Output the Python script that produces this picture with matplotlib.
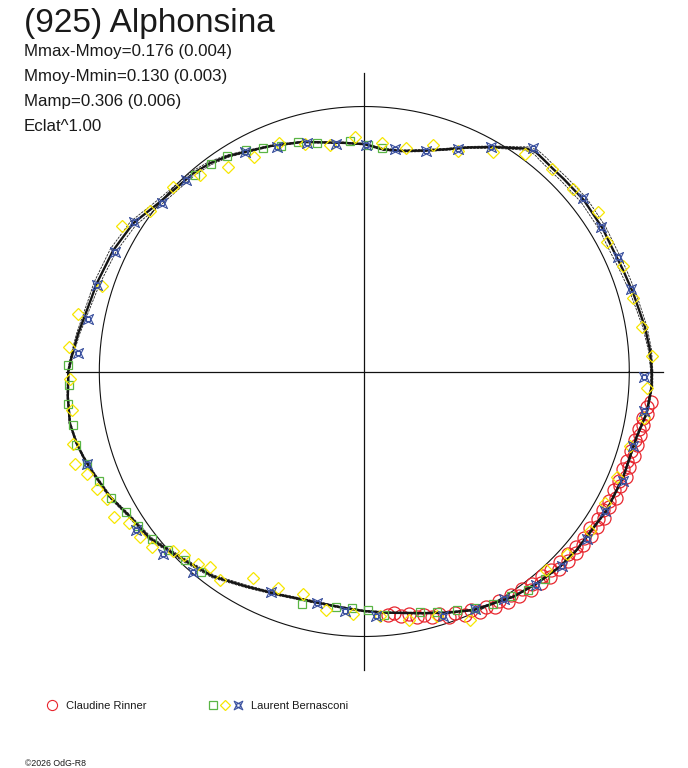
import numpy as np
import matplotlib
matplotlib.use('Agg')
import matplotlib.pyplot as plt
from matplotlib.path import Path

plt.rcParams['font.family'] = ['Liberation Sans', 'DejaVu Sans']

#%% data  (angle in degrees, ccw from +x ; radius = relative flux, 1 = mean)
title = '(925) Alphonsina'
stats = ['Mmax-Mmoy=0.176 (0.004)',
         'Mmoy-Mmin=0.130 (0.003)',
         'Mamp=0.306 (0.006)',
         'Eclat^1.00']
observers = ['Claudine Rinner', 'Laurent Bernasconi']
credit = '\u00a92026 OdG-R8'

curve_ang = [0, 4.3, 9.1, 16.2, 21.4, 26, 31, 38, 44, 47, 50, 52, 54, 56, 60, 65, 70, 75,
             80, 85, 90, 95, 105, 112.7, 118, 122.3, 126.5, 130.8, 140.3, 147.3, 154.2,
             161.8, 165.3, 172.4, 177.1, 180, 184.9, 190, 194, 196.9, 200.6, 206.2, 211.8,
             217.9, 227, 233.6, 241.3, 249.3, 257.5, 264.1, 270, 275.3, 283, 288.9, 294.6,
             303.5, 309.1, 315.1, 319.9, 330.3, 337.9, 346.5, 351.6, 357, 360]
curve_flux = [1.085, 1.081, 1.072, 1.057, 1.049, 1.045, 1.049, 1.051, 1.046, 1.045, 1.048,
              1.051, 1.040, 1.017, 0.978, 0.933, 0.892, 0.863, 0.845, 0.841, 0.858, 0.866,
              0.897, 0.922, 0.941, 0.962, 0.978, 0.988, 1.002, 1.036, 1.052, 1.063, 1.067,
              1.089, 1.106, 1.117, 1.123, 1.128, 1.119, 1.108, 1.092, 1.070, 1.040, 1.025,
              0.982, 0.961, 0.925, 0.901, 0.890, 0.894, 0.904, 0.914, 0.936, 0.962, 0.990,
              1.019, 1.031, 1.043, 1.047, 1.054, 1.055, 1.057, 1.077, 1.086, 1.085]
curve_err = [0.004, 0.006, 0.008, 0.010, 0.012, 0.013, 0.013, 0.013, 0.012, 0.012, 0.012,
             0.010, 0.008, 0.006, 0.005, 0.004, 0.004, 0.004, 0.004, 0.004, 0.003, 0.003,
             0.003, 0.003, 0.004, 0.005, 0.007, 0.009, 0.011, 0.012, 0.012, 0.011, 0.009,
             0.006, 0.004, 0.003, 0.003, 0.003, 0.003, 0.003, 0.004, 0.004, 0.005, 0.006,
             0.006, 0.006, 0.005, 0.004, 0.004, 0.003, 0.003, 0.003, 0.003, 0.003, 0.003,
             0.003, 0.003, 0.003, 0.003, 0.003, 0.003, 0.003, 0.003, 0.004, 0.004]

# Claudine Rinner
red_ang = [354.0, 352.8, 351.5, 350.6, 349.2, 348.1, 347.0, 345.8, 344.9, 343.5, 342.6,
           341.2, 340.1, 339.3, 338.0, 336.8, 335.9, 334.5, 333.4, 332.2, 331.0, 329.9,
           328.6, 327.7, 326.3, 325.2, 324.0, 322.9, 321.6, 320.4, 319.5, 318.1, 317.0,
           315.8, 314.6, 313.3, 312.1, 311.0, 309.8, 308.4, 307.3, 306.0, 304.6, 303.2,
           301.9, 300.4, 299.0, 297.3, 295.8, 294.1, 292.5, 290.6, 289.0, 287.2, 285.5,
           283.7, 282.0, 280.4, 278.6, 277.0, 275.5]
red_flux = [1.088, 1.074, 1.080, 1.066, 1.072, 1.058, 1.067, 1.052, 1.064, 1.050, 1.066,
            1.048, 1.061, 1.044, 1.064, 1.047, 1.058, 1.043, 1.062, 1.046, 1.057, 1.041,
            1.060, 1.044, 1.055, 1.038, 1.058, 1.040, 1.054, 1.036, 1.052, 1.034, 1.050,
            1.030, 1.047, 1.028, 1.043, 1.024, 1.040, 1.021, 1.035, 1.015, 1.030, 1.010,
            1.024, 1.004, 1.016, 0.998, 1.006, 0.986, 0.993, 0.972, 0.978, 0.958, 0.962,
            0.944, 0.948, 0.930, 0.935, 0.918, 0.924]

# Laurent Bernasconi (three sessions)
green_ang = [89.1, 85.4, 93.6, 101.8, 106, 110.4, 114.3, 118.1, 122.5, 126.4, 130.7, 178.7,
             182.7, 186.3, 190.4, 194.2, 198.4, 202.5, 206.6, 210.5, 214.4, 218.4, 222.3,
             226.5, 230.9, 255, 263.2, 267, 270.8, 274.7, 283, 286.8, 291.2, 295, 299, 303.2,
             306.9, 311.1]
green_flux = [0.854, 0.846, 0.871, 0.880, 0.901, 0.906, 0.925, 0.946, 0.964, 0.974, 0.979,
              1.119, 1.117, 1.126, 1.118, 1.124, 1.103, 1.083, 1.070, 1.045, 1.034, 1.020,
              1.000, 0.983, 0.977, 0.909, 0.896, 0.894, 0.900, 0.921, 0.931, 0.948, 0.966,
              0.985, 1.004, 1.013, 1.031, 1.037]

yellow_ang = [92.3, 85.7, 79.5, 73, 67, 59.7, 53.6, 47.1, 41.2, 34.4, 28, 22.2, 15.4, 9.0,
              3.1, 356.7, 350.5, 344.3, 337.3, 331.3, 324.8, 317.9, 312.4, 293.1, 286.6,
              280.3, 273.7, 267.3, 260.8, 254.7, 248.4, 241.8, 235.3, 231.7, 229.2, 225.5,
              223.1, 219.5, 216.4, 212.8, 210.2, 206.4, 203.8, 200.2, 197.7, 194, 187.5,
              181.4, 175.2, 168.6, 161.9, 149, 143.2, 136, 129.9, 123.7, 117.2, 110.4, 104.7,
              98.7]
yellow_flux = [0.885, 0.866, 0.858, 0.893, 0.903, 0.959, 1.021, 1.042, 1.047, 1.067, 1.037,
               1.056, 1.051, 1.062, 1.087, 1.070, 1.072, 1.040, 1.035, 1.034, 1.042, 1.030,
               1.016, 1.019, 0.962, 0.953, 0.924, 0.916, 0.912, 0.871, 0.880, 0.886, 0.959,
               0.938, 0.962, 0.969, 0.990, 1.039, 1.052, 1.057, 1.093, 1.085, 1.102, 1.116,
               1.146, 1.131, 1.113, 1.111, 1.120, 1.104, 1.041, 1.065, 1.012, 1.004, 0.967,
               0.927, 0.909, 0.919, 0.886, 0.864]

blue_ang = [89.5, 82.1, 74.3, 67.2, 60.5, 53, 38.5, 31.4, 24.2, 17.2, 358.8, 351.9, 344.5,
            337, 329.8, 323, 315.5, 308.7, 301.6, 294.9, 287.9, 272.7, 265.5, 258.5, 247.1,
            229.5, 222.2, 214.8, 198.4, 176.3, 169.3, 162, 154.4, 147, 140.1, 132.9, 118.5,
            111.1, 104.1, 97]
blue_flux = [0.854, 0.847, 0.866, 0.910, 0.972, 1.055, 1.053, 1.047, 1.050, 1.052, 1.057,
             1.068, 1.052, 1.062, 1.049, 1.053, 1.045, 1.034, 1.007, 0.989, 0.969, 0.923,
             0.907, 0.891, 0.904, 0.997, 1.024, 1.050, 1.103, 1.081, 1.062, 1.060, 1.042,
             1.035, 0.994, 0.988, 0.942, 0.910, 0.888, 0.865]

cross_len = 1.127   # = max relative flux


def to_xy(ang, flux):
    a = np.radians(np.asarray(ang, dtype=float))
    r = np.asarray(flux, dtype=float)
    return r * np.cos(a), r * np.sin(a)


# concave 4 point star with small square inside
star_v = [(1, 1), (0, 0.5), (-1, 1), (-0.5, 0), (-1, -1), (0, -0.5), (1, -1), (0.5, 0), (1, 1),
          (0.4, 0.4), (-0.4, 0.4), (-0.4, -0.4), (0.4, -0.4), (0.4, 0.4)]
star_c = [Path.MOVETO] + [Path.LINETO] * 7 + [Path.CLOSEPOLY] + \
         [Path.MOVETO] + [Path.LINETO] * 3 + [Path.CLOSEPOLY]
star = Path(star_v, star_c)

c_red = '#e8262e'
c_green = '#5ab545'
c_yellow = '#f7e600'
c_blue = '#3a509e'

#%% figure
plt.close('all')
fig = plt.figure(figsize=(6.88, 7.68), dpi=100)
fig.patch.set_facecolor('white')

ax = fig.add_axes([0.0673, 0.10221, 0.92442, 0.828125])
ax.set_xlim(-1.2, 1.2)
ax.set_ylim(-1.2, 1.2)
ax.set_aspect('equal')
ax.axis('off')

# mean circle and cross
t = np.linspace(0, 2 * np.pi, 400)
ax.plot(np.cos(t), np.sin(t), c='#111111', lw=0.8, zorder=1)
ax.plot([-cross_len, cross_len], [0, 0], c='#111111', lw=0.9, zorder=1)
ax.plot([0, 0], [-cross_len, cross_len], c='#111111', lw=0.9, zorder=1)

# observations
x, y = to_xy(red_ang, red_flux)
ax.plot(x, y, ls='none', marker='o', ms=9.4, mfc='none', mec=c_red, mew=0.9, zorder=2)

# fitted curve and uncertainty
flux = np.array(curve_flux)
err = np.array(curve_err)
x, y = to_xy(curve_ang, flux + err)
ax.plot(x, y, c='#222222', lw=0.6, ls=(0, (3, 1.2)), zorder=3)
x, y = to_xy(curve_ang, flux - err)
ax.plot(x, y, c='#222222', lw=0.6, ls=(0, (3, 1.2)), zorder=3)
x, y = to_xy(curve_ang, flux)
ax.plot(x, y, c='#151515', lw=1.7, zorder=3)

x, y = to_xy(green_ang, green_flux)
ax.plot(x, y, ls='none', marker='s', ms=6.0, mfc='none', mec=c_green, mew=0.9, zorder=4)
x, y = to_xy(yellow_ang, yellow_flux)
ax.plot(x, y, ls='none', marker='D', ms=6.0, mfc='none', mec=c_yellow, mew=0.9, zorder=4)
x, y = to_xy(blue_ang, blue_flux)
ax.plot(x, y, ls='none', marker=star, ms=7.2, mfc='none', mec=c_blue, mew=0.8, zorder=5)

#%% texts and legend (overlay in pixel units)
lay = fig.add_axes([0, 0, 1, 1], zorder=-1)
lay.set_xlim(0, 688)
lay.set_ylim(768, 0)
lay.axis('off')

lay.text(24, 32, title, fontsize=24, color='#1a1a1a', va='baseline')
for i, s in enumerate(stats):
    lay.text(24, 56 + 25 * i, s, fontsize=12.2, color='#1a1a1a', va='baseline')

lay.plot([52.3], [705], ls='none', marker='o', ms=7.3, mfc='none', mec=c_red, mew=0.8)
lay.text(65.5, 709, observers[0], fontsize=8, color='#1a1a1a', va='baseline')
lay.plot([213], [705], ls='none', marker='s', ms=5.3, mfc='none', mec=c_green, mew=0.9)
lay.plot([225.3], [705], ls='none', marker='D', ms=5.2, mfc='none', mec=c_yellow, mew=0.9)
lay.plot([237.7], [705], ls='none', marker=star, ms=6.2, mfc='none', mec=c_blue, mew=0.8)
lay.text(250.7, 709, observers[1], fontsize=8, color='#1a1a1a', va='baseline')

lay.text(25, 766, credit, fontsize=6.3, color='#1a1a1a', va='baseline')

fig.savefig('out.png', dpi=100, facecolor='white')
